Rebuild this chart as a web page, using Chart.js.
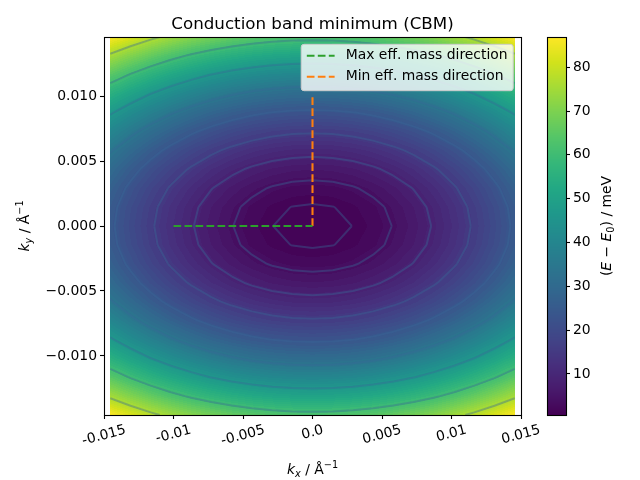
<!DOCTYPE html>
<html>
<head>
<meta charset="utf-8">
<script src="https://cdn.jsdelivr.net/npm/chart.js@4.4.1/dist/chart.umd.min.js"></script>
<style>
  html, body { margin: 0; padding: 0; background: #fff; }
  #wrap { position: relative; width: 640px; height: 480px; }
  #wrap canvas { position: absolute; left: 0; top: 0; }
</style>
</head>
<body>
<div id="wrap">
  <canvas id="main" width="640" height="480"></canvas>
  <canvas id="cbar" width="640" height="480"></canvas>
</div>
<script>
// k grid (1/Å) and energy profiles (meV) read along the two axes
const kxGrid = [-0.01455, -0.013095, -0.01164, -0.010185, -0.00873, -0.007275, -0.00582, -0.004365, -0.00291, -0.001455, 0,
                0.001455, 0.00291, 0.004365, 0.00582, 0.007275, 0.00873, 0.010185, 0.01164, 0.013095, 0.01455];
const kyGrid = [-0.01455, -0.013095, -0.01164, -0.010185, -0.00873, -0.007275, -0.00582, -0.004365, -0.00291, -0.001455, 0,
                0.001455, 0.00291, 0.004365, 0.00582, 0.007275, 0.00873, 0.010185, 0.01164, 0.013095, 0.01455];
const exProfile = [24.6, 19.93, 15.74, 12.05, 8.86, 6.15, 3.94, 2.21, 0.98, 0.25, 0,
                   0.25, 0.98, 2.21, 3.94, 6.15, 8.86, 12.05, 15.74, 19.93, 24.6];
const eyProfile = [62.4, 50.54, 39.94, 30.58, 22.46, 15.6, 9.98, 5.62, 2.5, 0.62, 0,
                   0.62, 2.5, 5.62, 9.98, 15.6, 22.46, 30.58, 39.94, 50.54, 62.4];
const contourLevels = [0.94, 3.8, 8.5, 15.1, 23.6, 34.0, 46.3, 60.4, 76.5];
const cbarRange = [0.64, 86.9];
const cbarTicks = [10, 20, 30, 40, 50, 60, 70, 80];

const xTickValues = [-0.015, -0.01, -0.005, 0, 0.005, 0.01, 0.015];
const xTickLabels = ['-0.015', '-0.01', '-0.005', '0.0', '0.005', '0.01', '0.015'];
const yTickValues = [-0.01, -0.005, 0, 0.005, 0.01];
const yTickLabels = ['\u22120.010', '\u22120.005', '0.000', '0.005', '0.010'];

// effective mass directions
const maxDirX = [-0.01, 0];
const maxDirY = [0, 0];
const minDirX = [0, 0];
const minDirY = [0, 0.01];

const FONT = '"DejaVu Sans", sans-serif';
const FS = 13.9;

const viridisStops = ['#440154', '#481a6c', '#472f7d', '#414487', '#39568c', '#31688e', '#2a788e', '#23888e',
                      '#1f988b', '#22a884', '#35b779', '#54c568', '#7ad151', '#a5db36', '#d2e21b', '#fde725']
  .map(h => [parseInt(h.slice(1, 3), 16), parseInt(h.slice(3, 5), 16), parseInt(h.slice(5, 7), 16)]);

function viridis(t) {
  t = Math.min(1, Math.max(0, t)) * (viridisStops.length - 1);
  const i = Math.min(viridisStops.length - 2, Math.floor(t));
  const f = t - i, a = viridisStops[i], b = viridisStops[i + 1];
  return [a[0] + f * (b[0] - a[0]), a[1] + f * (b[1] - a[1]), a[2] + f * (b[2] - a[2])];
}

// piecewise lookup along a profile
function profileAt(grid, vals, k) {
  if (k <= grid[0]) return vals[0];
  for (let i = 0; i < grid.length - 1; i++) {
    if (k <= grid[i + 1]) {
      const f = (k - grid[i]) / (grid[i + 1] - grid[i]);
      return vals[i] + f * (vals[i + 1] - vals[i]);
    }
  }
  return vals[vals.length - 1];
}

function cellValue(i, j) {
  return exProfile[i] + eyProfile[j];
}

function contourSegments(level) {
  const segs = [];
  for (let j = 0; j < kyGrid.length - 1; j++) {
    for (let i = 0; i < kxGrid.length - 1; i++) {
      const c = [[i, j], [i + 1, j], [i + 1, j + 1], [i, j + 1]];
      const v = c.map(p => cellValue(p[0], p[1]));
      const pts = [];
      for (let e = 0; e < 4; e++) {
        const a = e, b = (e + 1) % 4;
        if ((v[a] < level) !== (v[b] < level)) {
          const t = (level - v[a]) / (v[b] - v[a]);
          const ax = kxGrid[c[a][0]], ay = kyGrid[c[a][1]];
          const bx = kxGrid[c[b][0]], by = kyGrid[c[b][1]];
          pts.push([ax + t * (bx - ax), ay + t * (by - ay)]);
        }
      }
      if (pts.length === 2) segs.push(pts);
      else if (pts.length === 4) { segs.push([pts[0], pts[1]]); segs.push([pts[2], pts[3]]); }
    }
  }
  return segs;
}

// text with italic / sub / superscript pieces, centered on cx
function drawMath(ctx, parts, cx, baseY) {
  const pieces = parts.map(p => {
    const size = (p.sub || p.sup) ? FS * 0.7 : FS;
    const font = (p.it ? 'italic ' : '') + size + 'px ' + FONT;
    ctx.font = font;
    return { t: p.t, font, w: ctx.measureText(p.t).width, dy: p.sub ? FS * 0.22 : (p.sup ? -FS * 0.42 : 0) };
  });
  const total = pieces.reduce((s, p) => s + p.w, 0);
  let x = cx - total / 2;
  ctx.textAlign = 'left';
  ctx.textBaseline = 'alphabetic';
  ctx.fillStyle = '#000';
  pieces.forEach(p => {
    ctx.font = p.font;
    ctx.fillText(p.t, x, baseY + p.dy);
    x += p.w;
  });
}

const heatmapPlugin = {
  id: 'heatmap',
  beforeDatasetsDraw(chart) {
    const { ctx, scales: { x, y } } = chart;
    const x0 = Math.round(x.getPixelForValue(kxGrid[0]));
    const x1 = Math.round(x.getPixelForValue(kxGrid[kxGrid.length - 1]));
    const y0 = Math.round(y.getPixelForValue(kyGrid[kyGrid.length - 1]));
    const y1 = Math.round(y.getPixelForValue(kyGrid[0]));
    const w = x1 - x0, h = y1 - y0;
    const off = document.createElement('canvas');
    off.width = w; off.height = h;
    const octx = off.getContext('2d');
    const img = octx.createImageData(w, h);
    const colE = [], rowE = [];
    for (let c = 0; c < w; c++) colE.push(profileAt(kxGrid, exProfile, x.getValueForPixel(x0 + c + 0.5)));
    for (let r = 0; r < h; r++) rowE.push(profileAt(kyGrid, eyProfile, y.getValueForPixel(y0 + r + 0.5)));
    const nBands = 70;
    const step = (cbarRange[1] - cbarRange[0]) / nBands;
    for (let r = 0; r < h; r++) {
      for (let c = 0; c < w; c++) {
        const v = colE[c] + rowE[r];
        const band = Math.min(nBands - 1, Math.max(0, Math.floor((v - cbarRange[0]) / step)));
        const col = viridis((band + 0.5) / nBands);
        const k = (r * w + c) * 4;
        img.data[k] = col[0]; img.data[k + 1] = col[1]; img.data[k + 2] = col[2]; img.data[k + 3] = 255;
      }
    }
    octx.putImageData(img, 0, 0);
    ctx.drawImage(off, x0, y0);

    // contour lines
    ctx.save();
    ctx.beginPath();
    ctx.rect(x0, y0, w, h);
    ctx.clip();
    ctx.lineWidth = 2;
    ctx.strokeStyle = 'rgba(55, 105, 150, 0.4)';
    contourLevels.forEach(level => {
      ctx.beginPath();
      contourSegments(level).forEach(s => {
        ctx.moveTo(x.getPixelForValue(s[0][0]), y.getPixelForValue(s[0][1]));
        ctx.lineTo(x.getPixelForValue(s[1][0]), y.getPixelForValue(s[1][1]));
      });
      ctx.stroke();
    });
    ctx.restore();
  },
  afterDraw(chart) {
    const { ctx, chartArea: a, scales: { x } } = chart;
    ctx.save();
    // frame
    ctx.strokeStyle = '#000';
    ctx.lineWidth = 1.1;
    ctx.strokeRect(a.left + 0.5, a.top + 0.5, a.right - a.left, a.bottom - a.top);

    // rotated x tick labels
    ctx.font = FS + 'px ' + FONT;
    ctx.fillStyle = '#000';
    const rot = 15 * Math.PI / 180;
    const top = a.bottom + 7;
    xTickValues.forEach((v, i) => {
      const tw = ctx.measureText(xTickLabels[i]).width;
      const th = FS * 1.164;
      const H = tw * Math.sin(rot) + th * Math.cos(rot);
      ctx.save();
      ctx.translate(x.getPixelForValue(v), top + H / 2);
      ctx.rotate(-rot);
      ctx.textAlign = 'center';
      ctx.textBaseline = 'middle';
      ctx.fillText(xTickLabels[i], 0, 0);
      ctx.restore();
    });

    // title
    ctx.font = '16.7px ' + FONT;
    ctx.textAlign = 'center';
    ctx.textBaseline = 'alphabetic';
    ctx.fillText('Conduction band minimum (CBM)', (a.left + a.right) / 2, 29);

    // axis titles
    drawMath(ctx, [{ t: 'k', it: 1 }, { t: 'x', it: 1, sub: 1 }, { t: ' / \u00c5' }, { t: '\u22121', sup: 1 }],
      (a.left + a.right) / 2, 474);
    ctx.save();
    ctx.translate(29, (a.top + a.bottom) / 2);
    ctx.rotate(-Math.PI / 2);
    drawMath(ctx, [{ t: 'k', it: 1 }, { t: 'y', it: 1, sub: 1 }, { t: ' / \u00c5' }, { t: '\u22121', sup: 1 }], 0, 0);
    ctx.restore();

    // legend (upper right, inside axes)
    const ds = chart.data.datasets;
    ctx.font = FS + 'px ' + FONT;
    const textW = Math.max(...ds.map(d => ctx.measureText(d.label).width));
    const pad = 5.6, handle = 27.8, gap = 11.1;
    const bw = pad + handle + gap + textW + pad;
    const bh = 46.4;
    const bx = a.right - 7.8 - bw, by = a.top + 7.3;
    ctx.beginPath();
    ctx.roundRect(bx, by, bw, bh, 2.8);
    ctx.fillStyle = 'rgba(255,255,255,0.8)';
    ctx.fill();
    ctx.strokeStyle = '#cccccc';
    ctx.lineWidth = 1;
    ctx.stroke();
    ds.forEach((d, i) => {
      const cy = by + 11.4 + i * 21;
      ctx.beginPath();
      ctx.setLineDash(d.borderDash);
      ctx.strokeStyle = d.borderColor;
      ctx.lineWidth = d.borderWidth;
      ctx.moveTo(bx + pad, cy);
      ctx.lineTo(bx + pad + handle, cy);
      ctx.stroke();
      ctx.setLineDash([]);
      ctx.fillStyle = '#000';
      ctx.textAlign = 'left';
      ctx.textBaseline = 'middle';
      ctx.fillText(d.label, bx + pad + handle + gap, cy);
    });
    ctx.restore();
  }
};

const toPoints = (xs, ys) => xs.map((v, i) => ({ x: v, y: ys[i] }));

new Chart(document.getElementById('main'), {
  type: 'scatter',
  data: {
    datasets: [
      {
        label: 'Max eff. mass direction',
        data: toPoints(maxDirX, maxDirY),
        showLine: true, pointRadius: 0,
        borderColor: '#2ca02c', borderWidth: 2.08, borderDash: [7.7, 3.3]
      },
      {
        label: 'Min eff. mass direction',
        data: toPoints(minDirX, minDirY),
        showLine: true, pointRadius: 0,
        borderColor: '#ff7f0e', borderWidth: 2.08, borderDash: [7.7, 3.3]
      }
    ]
  },
  options: {
    responsive: false,
    animation: false,
    devicePixelRatio: 1,
    layout: { padding: { left: 0, right: 119, top: 37, bottom: 0 } },
    plugins: { legend: { display: false }, tooltip: { enabled: false }, title: { display: false } },
    scales: {
      x: {
        type: 'linear', min: -0.015, max: 0.015,
        afterFit: s => { s.height = 65; },
        afterBuildTicks: s => { s.ticks = xTickValues.map(v => ({ value: v })); },
        ticks: { autoSkip: false, maxRotation: 0, callback: () => '' },
        grid: { drawOnChartArea: false, tickLength: 4, tickColor: '#000', tickWidth: 1.1 },
        border: { display: false }
      },
      y: {
        type: 'linear', min: -0.01455, max: 0.01455,
        afterFit: s => { s.width = 104; },
        afterBuildTicks: s => { s.ticks = yTickValues.map(v => ({ value: v })); },
        ticks: {
          autoSkip: false, padding: 3, color: '#000',
          font: { family: 'DejaVu Sans', size: FS },
          callback: (v, i) => yTickLabels[i]
        },
        grid: { drawOnChartArea: false, tickLength: 4, tickColor: '#000', tickWidth: 1.1 },
        border: { display: false }
      }
    }
  },
  plugins: [heatmapPlugin]
});

const colorbarPlugin = {
  id: 'colorbar',
  beforeDatasetsDraw(chart) {
    const { ctx, chartArea: a, scales: { y } } = chart;
    for (let r = Math.floor(a.top); r < Math.ceil(a.bottom); r++) {
      const v = y.getValueForPixel(r + 0.5);
      const c = viridis((v - cbarRange[0]) / (cbarRange[1] - cbarRange[0]));
      ctx.fillStyle = 'rgb(' + c.map(Math.round).join(',') + ')';
      ctx.fillRect(a.left, r, a.right - a.left, 1);
    }
  },
  afterDraw(chart) {
    const { ctx, chartArea: a } = chart;
    ctx.save();
    ctx.strokeStyle = '#000';
    ctx.lineWidth = 1.1;
    ctx.strokeRect(a.left + 0.5, a.top + 0.5, a.right - a.left, a.bottom - a.top);
    ctx.translate(611, (a.top + a.bottom) / 2);
    ctx.rotate(-Math.PI / 2);
    drawMath(ctx, [{ t: '(' }, { t: 'E', it: 1 }, { t: ' \u2212 ' }, { t: 'E', it: 1 }, { t: '0', sub: 1 }, { t: ')' }, { t: ' / meV' }], 0, 0);
    ctx.restore();
  }
};

new Chart(document.getElementById('cbar'), {
  type: 'scatter',
  data: { datasets: [] },
  options: {
    responsive: false,
    animation: false,
    devicePixelRatio: 1,
    layout: { padding: { left: 547, right: 0, top: 37, bottom: 65 } },
    plugins: { legend: { display: false }, tooltip: { enabled: false } },
    scales: {
      x: { display: false, min: 0, max: 1 },
      y: {
        position: 'right', min: cbarRange[0], max: cbarRange[1],
        afterFit: s => { s.width = 74; },
        afterBuildTicks: s => { s.ticks = cbarTicks.map(v => ({ value: v })); },
        ticks: {
          autoSkip: false, padding: 3, color: '#000',
          font: { family: 'DejaVu Sans', size: FS },
          callback: v => String(v)
        },
        grid: { drawOnChartArea: false, tickLength: 4, tickColor: '#000', tickWidth: 1.1 },
        border: { display: false }
      }
    }
  },
  plugins: [colorbarPlugin]
});
</script>
</body>
</html>
